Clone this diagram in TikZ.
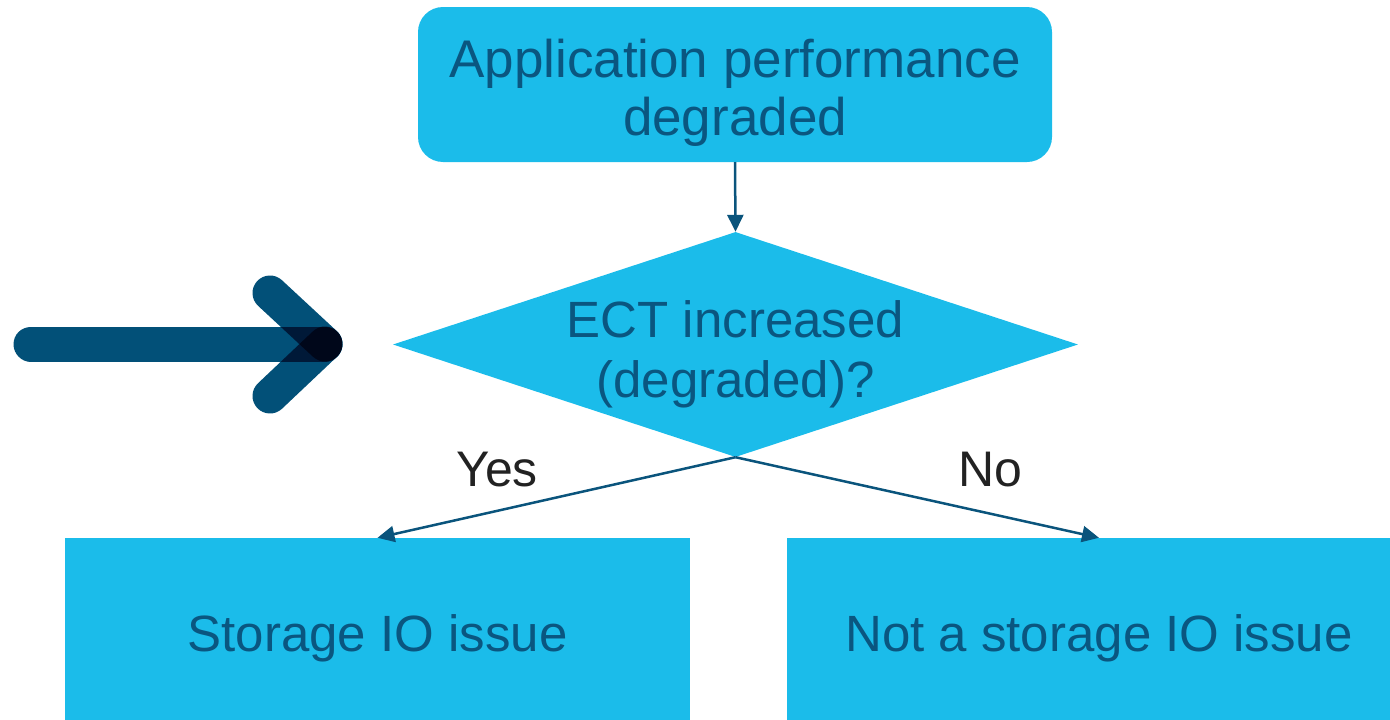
\documentclass[tikz,border=0pt]{standalone}
\usepackage{fontspec}
\setmainfont{Liberation Sans}
\usetikzlibrary{shapes.geometric,arrows.meta}
\definecolor{boxcyan}{RGB}{27,188,234}
\definecolor{textblue}{RGB}{10,86,128}
\definecolor{linkblue}{RGB}{10,84,124}
\definecolor{markblue}{RGB}{2,80,120}
\definecolor{labelgray}{RGB}{34,34,34}

\tikzset{
  flowbox/.style={fill=boxcyan, inner sep=0pt},
  boxtext/.style={text=textblue, align=center, inner sep=0pt},
  decision/.style={flowbox, diamond, aspect=3.04, minimum width=685pt, minimum height=225pt},
  link/.style={linkblue, line width=2.5pt, -{Triangle[length=17pt,width=16pt]}},
  answer/.style={text=labelgray, font=\fontsize{50}{54}\selectfont},
  pointer/.style={markblue, line width=35pt, line cap=round, blend mode=multiply}
}

\begin{document}
\begin{tikzpicture}[x=1pt,y=-1pt]
  \useasboundingbox (0,0) rectangle (1390,720);
  \clip (0,0) rectangle (1390,720);

  \node[flowbox, rounded corners=25pt, minimum width=634pt, minimum height=155pt,
    label={[boxtext, font=\fontsize{53}{58}\selectfont, yshift=-8pt]center:Application performance\\degraded}] (app) at (735,84.5) {};
  \node[decision,
    label={[boxtext, font=\fontsize{51}{60}\selectfont, yshift=-10pt]center:ECT increased\\(degraded)?}] (ect) at (735.5,344.5) {};
  \node[flowbox, minimum width=625pt, minimum height=190pt,
    label={[boxtext, font=\fontsize{51}{57}\selectfont, yshift=-5pt]center:Storage IO issue}] (storage) at (377.5,633) {};
  \node[flowbox, minimum width=624pt, minimum height=190pt,
    label={[boxtext, font=\fontsize{51}{57}\selectfont, yshift=-5pt]center:Not a storage IO issue}] (notstorage) at (1099,633) {};

  \draw[link] (app.south) -- (ect.north);
  \draw[link] (ect.south) -- (storage.north);
  \draw[link] (ect.south) -- (notstorage.north);
  \node[answer] (yes) at (497,470) {Yes};
  \node[answer] (no) at (990,470) {No};

  % side pointer
  \draw[pointer] (31,344) -- (325,344);
  \draw[pointer] (270,293) -- (325,344);
  \draw[pointer] (270,396) -- (325,344);
\end{tikzpicture}
\end{document}
